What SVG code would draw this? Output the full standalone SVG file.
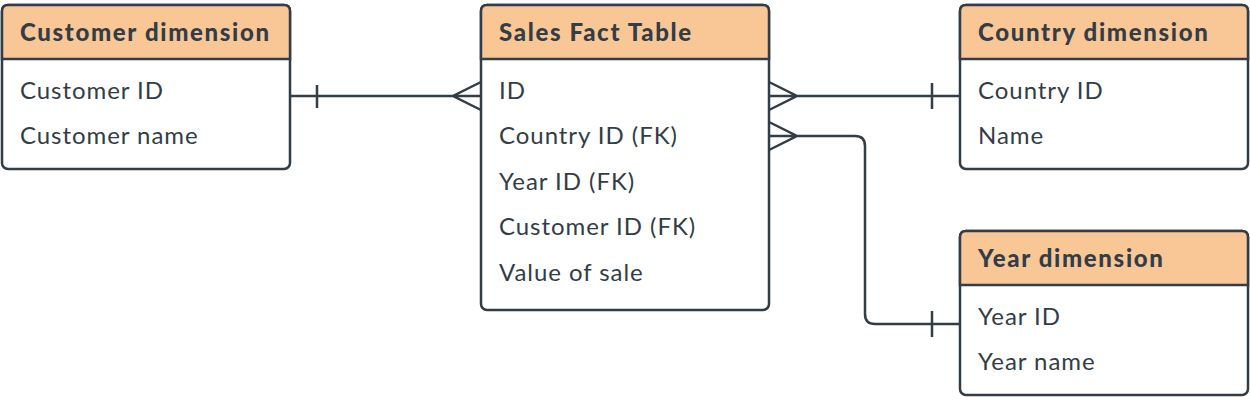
<svg xmlns="http://www.w3.org/2000/svg" width="1250" height="400" viewBox="0 0 1250 400">
<style>
.box{fill:#ffffff;stroke:#333d47;stroke-width:2.5}
.hdr{fill:#f9c795;stroke:#333d47;stroke-width:2.5}
.t{font-family:Lato,"Open Sans",sans-serif;font-size:24px;letter-spacing:0.95px;fill:#333d47}
.h{font-family:Lato,"Open Sans",sans-serif;font-size:24px;font-weight:900;letter-spacing:1.65px;fill:#333d47}
.c{fill:none;stroke:#333d47;stroke-width:2.5;stroke-linejoin:miter}
</style>
<rect width="1250" height="400" fill="#ffffff"/>
<g id="connectors">
<path class="c" d="M290,96 H481 M317,85 V108 M481,82 L453,96 L481,110"/>
<path class="c" d="M769,96 H960 M932,83 V109 M769,82 L797,96 L769,110"/>
<path class="c" d="M769,136 H855 Q865,136 865,146 V314 Q865,324 875,324 H960 M932,311 V337 M769,122 L797,136 L769,150"/>
</g>
<g id="customer">
<rect class="box" x="2" y="5" width="288" height="164" rx="6"/>
<path class="hdr" d="M2,59 V11 Q2,5 8,5 H284 Q290,5 290,11 V59 Z"/>
<text class="h" x="20" y="41">Customer dimension</text>
<text class="t" x="20" y="99">Customer ID</text>
<text class="t" x="20" y="144">Customer name</text>
</g>
<g id="sales">
<rect class="box" x="481" y="5" width="288" height="305" rx="6"/>
<path class="hdr" d="M481,59 V11 Q481,5 487,5 H763 Q769,5 769,11 V59 Z"/>
<text class="h" x="499" y="41">Sales Fact Table</text>
<text class="t" x="499" y="99">ID</text>
<text class="t" x="499" y="144">Country ID (FK)</text>
<text class="t" x="499" y="190">Year ID (FK)</text>
<text class="t" x="499" y="235">Customer ID (FK)</text>
<text class="t" x="499" y="281">Value of sale</text>
</g>
<g id="country">
<rect class="box" x="960" y="5" width="288" height="164" rx="6"/>
<path class="hdr" d="M960,59 V11 Q960,5 966,5 H1242 Q1248,5 1248,11 V59 Z"/>
<text class="h" x="978" y="41">Country dimension</text>
<text class="t" x="978" y="99">Country ID</text>
<text class="t" x="978" y="144">Name</text>
</g>
<g id="year">
<rect class="box" x="960" y="231" width="288" height="164" rx="6"/>
<path class="hdr" d="M960,285 V237 Q960,231 966,231 H1242 Q1248,231 1248,237 V285 Z"/>
<text class="h" x="978" y="267">Year dimension</text>
<text class="t" x="978" y="325">Year ID</text>
<text class="t" x="978" y="370">Year name</text>
</g>
</svg>
